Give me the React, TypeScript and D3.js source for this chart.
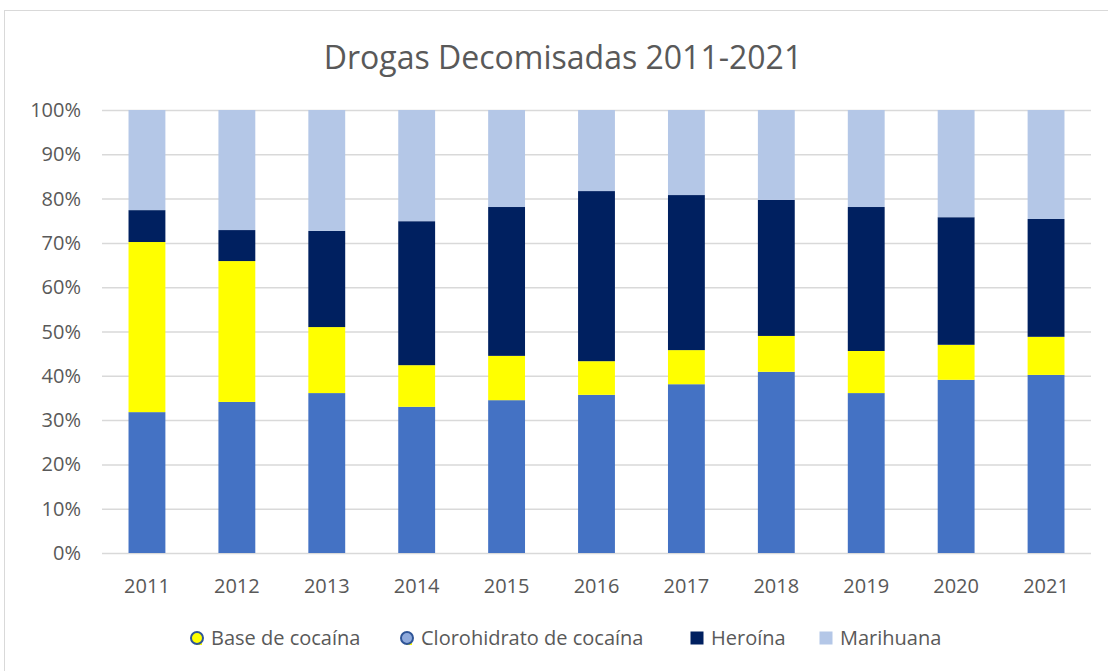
import React, { useEffect, useRef } from 'react';
import * as d3 from 'd3';

const years = ['2011', '2012', '2013', '2014', '2015', '2016', '2017', '2018', '2019', '2020', '2021'];
// percentages per year, stacked bottom to top
const clorohidrato = [31.8, 34.1, 36.1, 33.0, 34.5, 35.7, 38.1, 40.9, 36.1, 39.1, 40.2];
const base = [38.4, 31.8, 14.9, 9.4, 10.0, 7.6, 7.7, 8.1, 9.5, 7.9, 8.6];
const heroina = [7.2, 7.0, 21.7, 32.5, 33.6, 38.4, 35.0, 30.7, 32.5, 28.8, 26.6];
const marihuana = [22.6, 27.1, 27.3, 25.1, 21.9, 18.3, 19.2, 20.3, 21.9, 24.2, 24.6];
const yTicks = [0, 10, 20, 30, 40, 50, 60, 70, 80, 90, 100];

const seriesKeys = ['clorohidrato', 'base', 'heroina', 'marihuana'];
const colors = {
    clorohidrato: '#4472C4',
    base: '#FFFF00',
    heroina: '#002060',
    marihuana: '#B4C7E7'
};

export default function App() {
    const ref = useRef(null);
    const width = 1108;
    const height = 671;
    const margin = { top: 110, right: 17, bottom: 118, left: 102 };
    const font = '"Open Sans", Calibri, sans-serif';
    const textColor = '#595959';

    useEffect(() => {
        const svg = d3.select(ref.current);
        svg.selectAll('*').remove();

        const rows = years.map((y, i) => ({
            year: y,
            clorohidrato: clorohidrato[i],
            base: base[i],
            heroina: heroina[i],
            marihuana: marihuana[i]
        }));

        // chart border (runs off the right and bottom)
        svg.append('rect')
            .attr('x', 4.5)
            .attr('y', 10.5)
            .attr('width', width + 20)
            .attr('height', height + 20)
            .attr('fill', 'none')
            .attr('stroke', '#d9d9d9');

        const xScale = d3.scaleBand()
            .domain(years)
            .range([margin.left, width - margin.right])
            .paddingInner(0.59)
            .paddingOuter(0.295);
        const yScale = d3.scaleLinear()
            .domain([0, 100])
            .range([height - margin.bottom, margin.top]);

        // gridlines
        svg.append('g')
            .selectAll('line')
            .data(yTicks)
            .enter().append('line')
            .attr('x1', margin.left)
            .attr('x2', width - margin.right)
            .attr('y1', d => yScale(d) + 0.5)
            .attr('y2', d => yScale(d) + 0.5)
            .attr('stroke', '#d9d9d9')
            .attr('stroke-width', 1.5);

        // stacked bars
        const stacked = d3.stack().keys(seriesKeys)(rows);
        svg.append('g')
            .selectAll('g')
            .data(stacked)
            .enter().append('g')
            .attr('fill', d => colors[d.key])
            .selectAll('rect')
            .data(d => d)
            .enter().append('rect')
            .attr('x', d => xScale(d.data.year))
            .attr('width', xScale.bandwidth())
            .attr('y', d => yScale(d[1]))
            .attr('height', d => yScale(d[0]) - yScale(d[1]));

        // y axis labels
        svg.append('g')
            .selectAll('text')
            .data(yTicks)
            .enter().append('text')
            .attr('x', 81)
            .attr('y', d => yScale(d))
            .attr('dy', '0.35em')
            .attr('text-anchor', 'end')
            .attr('font-family', font)
            .attr('font-size', 20)
            .attr('fill', textColor)
            .text(d => d + '%');

        // x axis labels
        svg.append('g')
            .selectAll('text')
            .data(years)
            .enter().append('text')
            .attr('x', d => xScale(d) + xScale.bandwidth() / 2)
            .attr('y', height - margin.bottom + 40)
            .attr('text-anchor', 'middle')
            .attr('font-family', font)
            .attr('font-size', 20)
            .attr('fill', textColor)
            .text(d => d);

        // title
        svg.append('text')
            .attr('x', 563)
            .attr('y', 69)
            .attr('text-anchor', 'middle')
            .attr('font-family', font)
            .attr('font-size', 32)
            .attr('fill', textColor)
            .text('Drogas Decomisadas 2011-2021');

        // legend
        const legendY = 638;
        const legend = [
            { label: 'Base de cocaína', x: 197, fill: colors.base, shape: 'circle' },
            { label: 'Clorohidrato de cocaína', x: 407, fill: '#8FAADC', shape: 'circle' },
            { label: 'Heroína', x: 697, fill: colors.heroina, shape: 'square' },
            { label: 'Marihuana', x: 826, fill: colors.marihuana, shape: 'square' }
        ];
        const lg = svg.append('g')
            .selectAll('g')
            .data(legend)
            .enter().append('g')
            .attr('transform', d => 'translate(' + d.x + ',' + legendY + ')');
        lg.filter(d => d.shape === 'circle').append('rect')
            .attr('x', -1)
            .attr('y', 2)
            .attr('width', 6)
            .attr('height', 5)
            .attr('fill', colors.base);
        lg.filter(d => d.shape === 'circle').append('circle')
            .attr('r', 6)
            .attr('fill', d => d.fill)
            .attr('stroke', '#2F5597')
            .attr('stroke-width', 2);
        lg.filter(d => d.shape === 'square').append('rect')
            .attr('x', -6.5)
            .attr('y', -6.5)
            .attr('width', 13)
            .attr('height', 13)
            .attr('fill', d => d.fill);
        lg.append('text')
            .attr('x', 14)
            .attr('dy', '0.35em')
            .attr('font-family', font)
            .attr('font-size', 20)
            .attr('fill', textColor)
            .text(d => d.label);
    }, []);

    return (
        <svg ref={ref} width={width} height={height}
            style={{ position: 'absolute', left: 0, top: 0, display: 'block', background: '#fff' }} />
    );
}
